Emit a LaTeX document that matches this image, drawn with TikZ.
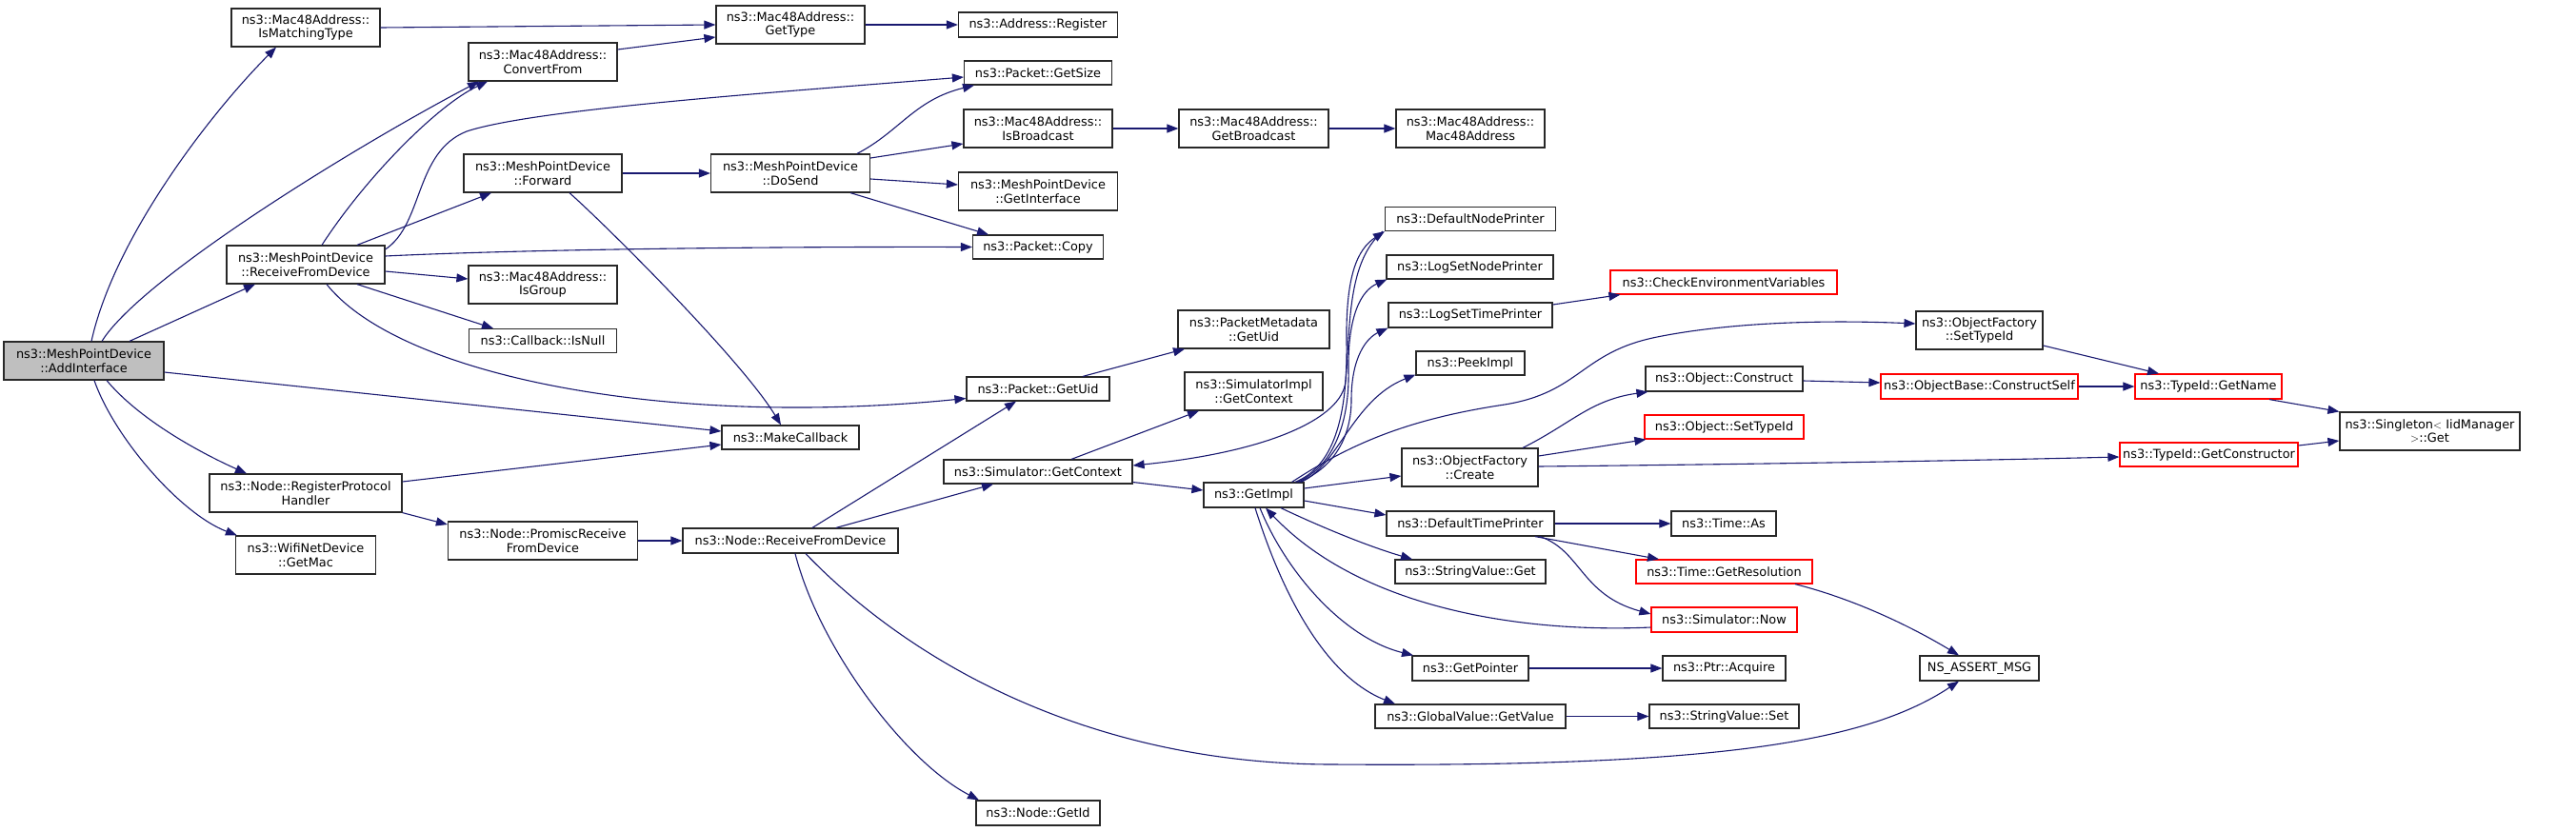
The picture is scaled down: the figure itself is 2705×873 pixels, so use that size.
\documentclass[tikz,border=0pt]{standalone}
\usepackage{fontspec}
\setmainfont{DejaVu Sans}
\usetikzlibrary{arrows.meta,calc}
\definecolor{edgec}{RGB}{25,25,112}
\definecolor{redc}{RGB}{255,0,0}
\definecolor{fillg}{RGB}{191,191,191}
\definecolor{bordc}{RGB}{40,40,40}
\newcommand{\dgfont}{\fontsize{12.9}{14.5}\selectfont}
\begin{document}
\begin{tikzpicture}[x=1pt,y=-1pt,
  box/.style={draw=bordc, line width=1.2pt, fill=white, inner sep=0pt, align=center, font=\dgfont},
  redbox/.style={box, draw=redc},
  mainbox/.style={box, fill=fillg},
  wh/.style 2 args={minimum width=#1pt, minimum height=#2pt},
  call/.style={draw=edgec, line width=1.1pt, -{Triangle[length=12pt,width=9pt]}}]
\useasboundingbox (0,0) rectangle (2705,873);
% ---------- nodes ----------
\node[mainbox, wh={168}{40}] (addif) at (88,379) {ns3::MeshPointDevice\\::AddInterface};
\node[box, wh={156}{40}] (ismt) at (321,29) {ns3::Mac48Address::\\IsMatchingType};
\node[box, wh={156}{40}] (conv) at (570,65) {ns3::Mac48Address::\\ConvertFrom};
\node[box, wh={166}{40}] (fwd) at (570,182) {ns3::MeshPointDevice\\::Forward};
\node[box, wh={166}{40}] (mrfd) at (321,278) {ns3::MeshPointDevice\\::ReceiveFromDevice};
\node[box, wh={156}{40}] (isg) at (570,299) {ns3::Mac48Address::\\IsGroup};
\node[box, wh={155}{25}] (isnull) at (570,358) {ns3::Callback::IsNull};
\node[box, wh={202}{40}] (rph) at (321,518) {ns3::Node::RegisterProtocol\\Handler};
\node[box, wh={147}{40}] (getmac) at (321,583) {ns3::WifiNetDevice\\::GetMac};
\node[box, wh={199}{40}] (prfd) at (570,568) {ns3::Node::PromiscReceive\\FromDevice};
\node[box, wh={156}{40}] (gettype) at (830,26) {ns3::Mac48Address::\\GetType};
\node[box, wh={167}{40}] (dosend) at (830,182) {ns3::MeshPointDevice\\::DoSend};
\node[box, wh={144}{25}] (mkcb) at (830,459.5) {ns3::MakeCallback};
\node[box, wh={226}{26}] (nrfd) at (830,568) {ns3::Node::ReceiveFromDevice};
\node[box, wh={167}{26}] (areg) at (1090,26) {ns3::Address::Register};
\node[box, wh={155}{25}] (getsize) at (1090,76.5) {ns3::Packet::GetSize};
\node[box, wh={156}{40}] (isbc) at (1090,135) {ns3::Mac48Address::\\IsBroadcast};
\node[box, wh={167}{40}] (getif) at (1090,201) {ns3::MeshPointDevice\\::GetInterface};
\node[box, wh={137}{25}] (copy) at (1090,259.5) {ns3::Packet::Copy};
\node[box, wh={150}{25}] (pguid) at (1090,408.5) {ns3::Packet::GetUid};
\node[box, wh={198}{25}] (sgc) at (1090,495.5) {ns3::Simulator::GetContext};
\node[box, wh={130}{26}] (getid) at (1090,854) {ns3::Node::GetId};
\node[box, wh={157}{40}] (getbc) at (1316.5,135) {ns3::Mac48Address::\\GetBroadcast};
\node[box, wh={159}{40}] (pmuid) at (1316.5,346) {ns3::PacketMetadata\\::GetUid};
\node[box, wh={145}{40}] (sigc) at (1316.5,411) {ns3::SimulatorImpl\\::GetContext};
\node[box, wh={105}{26}] (getimpl) at (1316.5,520) {ns3::GetImpl};
\node[box, wh={156}{40}] (m48) at (1544,135) {ns3::Mac48Address::\\Mac48Address};
\node[box, wh={179}{25}] (dnp) at (1544,230) {ns3::DefaultNodePrinter};
\node[box, wh={175}{25}] (lsnp) at (1543.5,280.5) {ns3::LogSetNodePrinter};
\node[box, wh={172}{26}] (lstp) at (1544,331) {ns3::LogSetTimePrinter};
\node[box, wh={114}{25}] (peek) at (1544,381.5) {ns3::PeekImpl};
\node[box, wh={143}{40}] (ofc) at (1543.5,491) {ns3::ObjectFactory\\::Create};
\node[box, wh={176}{26}] (dtp) at (1544,550) {ns3::DefaultTimePrinter};
\node[box, wh={158}{25}] (svget) at (1544,600.5) {ns3::StringValue::Get};
\node[box, wh={122}{26}] (gptr) at (1544,702) {ns3::GetPointer};
\node[box, wh={200}{25}] (gvgv) at (1544,752.5) {ns3::GlobalValue::GetValue};
\node[redbox, wh={238}{25}] (cev) at (1810,296.5) {ns3::CheckEnvironmentVariables};
\node[box, wh={165}{26}] (ocons) at (1810.5,398) {ns3::Object::Construct};
\node[redbox, wh={167}{25}] (osti) at (1810.5,448.5) {ns3::Object::SetTypeId};
\node[box, wh={110}{26}] (tas) at (1810,550) {ns3::Time::As};
\node[redbox, wh={185}{25}] (tgr) at (1810.5,600.5) {ns3::Time::GetResolution};
\node[redbox, wh={153}{26}] (snow) at (1810.5,651) {ns3::Simulator::Now};
\node[box, wh={129}{26}] (pacq) at (1810.5,702) {ns3::Ptr::Acquire};
\node[box, wh={157}{25}] (svset) at (1810.5,752.5) {ns3::StringValue::Set};
\node[box, wh={133}{40}] (ofsti) at (2078.5,347) {ns3::ObjectFactory\\::SetTypeId};
\node[redbox, wh={207}{26}] (obcs) at (2078.5,406) {ns3::ObjectBase::ConstructSelf};
\node[box, wh={125}{26}] (nsassert) at (2078.5,702) {NS\_ASSERT\_MSG};
\node[redbox, wh={154}{26}] (tgn) at (2319,406) {ns3::TypeId::GetName};
\node[redbox, wh={187}{25}] (tgc) at (2319.5,477.5) {ns3::TypeId::GetConstructor};
\node[box, wh={189}{40}] (singleton) at (2551.5,453) {ns3::Singleton$<$ IidManager\\ $>$::Get};
% ---------- edges ----------
\draw[call] ($(addif.north)+(8,0)$) .. controls (120,250) and (220,120) .. ($(ismt.south)+(-31,0)$);
\draw[call] ($(addif.north)+(19,0)$) .. controls (150,290) and (380,150) .. ($(conv.south)+(-67,0)$);
\draw[call] ($(addif.north)+(48,0)$) -- ($(mrfd.south)+(-53,0)$);
\draw[call] ($(addif.east)+(0,12)$) -- ($(mkcb.west)+(0,-6.5)$);
\draw[call] ($(addif.south)+(24,0)$) .. controls (150,445) and (220,480) .. ($(rph.north)+(-62,0)$);
\draw[call] ($(addif.south)+(11,0)$) .. controls (120,460) and (190,540) .. ($(getmac.north west)+(2,0)$);
\draw[call] (ismt.east) -- (gettype.west);
\draw[call] ($(conv.east)+(0,-13)$) -- ($(gettype.west)+(0,13)$);
\draw[call] (gettype.east) -- (areg.west);
\draw[call] ($(mrfd.north)+(17,0)$) .. controls (385,185) and (460,110) .. ($(conv.south)+(-58,0)$);
\draw[call] ($(mrfd.east)+(0,-16)$) .. controls (445,235) and (435,160) .. (490,138) .. controls (560,115) and (800,98) .. ($(getsize.west)+(0,4.5)$);
\draw[call] ($(mrfd.north)+(54,0)$) -- ($(fwd.south)+(-54,0)$);
\draw[call] ($(mrfd.east)+(0,-9)$) .. controls (550,262) and (800,259) .. (copy.west);
\draw[call] ($(mrfd.east)+(0,7)$) -- ($(isg.west)+(0,-6)$);
\draw[call] ($(mrfd.south)+(54,0)$) -- ($(isnull.north)+(-52,0)$);
\draw[call] ($(mrfd.south)+(22,0)$) .. controls (420,395) and (700,450) .. ($(pguid.west)+(0,10)$);
\draw[call] (fwd.east) -- (dosend.west);
\draw[call] ($(fwd.south)+(28,0)$) .. controls (640,240) and (780,380) .. ($(mkcb.north)+(-10,0)$);
\draw[call] ($(dosend.north)+(70,0)$) .. controls (945,138) and (960,105) .. ($(getsize.south)+(-67,0)$);
\draw[call] ($(dosend.east)+(0,-16)$) -- ($(isbc.west)+(0,16)$);
\draw[call] ($(dosend.east)+(0,6)$) -- ($(getif.west)+(0,-7)$);
\draw[call] ($(dosend.south)+(63,0)$) -- ($(copy.north)+(-52,0)$);
\draw[call] (isbc.east) -- (getbc.west);
\draw[call] (getbc.east) -- (m48.west);
\draw[call] ($(rph.east)+(0,-12)$) -- ($(mkcb.west)+(0,7.5)$);
\draw[call] (rph.south east) -- ($(prfd.west)+(0,-17)$);
\draw[call] (prfd.east) -- (nrfd.west);
\draw[call] ($(nrfd.north)+(23,0)$) -- ($(pguid.south)+(-23,0)$);
\draw[call] ($(nrfd.north)+(48,0)$) -- ($(sgc.south)+(-47,0)$);
\draw[call] ($(nrfd.south)+(5,0)$) .. controls (860,680) and (950,800) .. ($(getid.north)+(-62,0)$);
\draw[call] ($(nrfd.south)+(16,0)$) .. controls (960,700) and (1150,803) .. (1400,803) .. controls (1800,806) and (1960,780) .. ($(nsassert.south)+(-21.5,0)$);
\draw[call] ($(pguid.north)+(47,0)$) -- ($(pmuid.south)+(-72.5,0)$);
\draw[call] ($(sgc.north)+(35,0)$) -- ($(sigc.south)+(-57.5,0)$);
\draw[call] ($(sgc.east)+(0,11)$) -- ($(getimpl.west)+(0,-5)$);
\draw[call] ($(dnp.south west)+(-2,0)$) .. controls (1415,275) and (1418,340) .. (1413,400) .. controls (1410,440) and (1330,475) .. ($(sgc.east)+(0,-6.5)$);
\draw[call] ($(getimpl.north)+(43.5,0)$) .. controls (1400,490) and (1415,440) .. (1414,360) .. controls (1413,290) and (1425,262) .. (dnp.south west);
\draw[call] ($(getimpl.north)+(45.5,0)$) .. controls (1402,490) and (1417,440) .. (1416,390) .. controls (1415,330) and (1430,305) .. ($(lsnp.south west)+(1,0)$);
\draw[call] ($(getimpl.north)+(47.5,0)$) .. controls (1404,490) and (1419,455) .. (1419,420) .. controls (1419,375) and (1435,355) .. (lstp.south west);
\draw[call] ($(getimpl.north)+(49.5,0)$) .. controls (1405,490) and (1420,420) .. ($(peek.south west)+(0,-1)$);
\draw[call] ($(getimpl.north)+(40,0)$) .. controls (1420,465) and (1480,440) .. (1580,425) .. controls (1660,412) and (1660,370) .. (1740,354) .. controls (1820,338) and (1920,336) .. ($(ofsti.west)+(0,-7)$);
\draw[call] ($(getimpl.east)+(0,-7)$) -- ($(ofc.west)+(0,9)$);
\draw[call] ($(getimpl.east)+(0,6)$) -- ($(dtp.west)+(0,-9)$);
\draw[call] ($(getimpl.south)+(28.5,0)$) .. controls (1390,555) and (1440,575) .. ($(svget.north)+(-61,0)$);
\draw[call] ($(getimpl.south)+(6.5,0)$) .. controls (1350,600) and (1410,670) .. ($(gptr.north)+(-60,0)$);
\draw[call] ($(getimpl.south)+(1.5,0)$) .. controls (1345,620) and (1390,710) .. ($(gvgv.north)+(-79,0)$);
\draw[call] ($(snow.west)+(0,8)$) .. controls (1600,665) and (1430,640) .. ($(getimpl.south)+(12.5,0)$);
\draw[call] ($(lstp.east)+(0,-11)$) -- ($(cev.south west)+(11,0)$);
\draw[call] ($(ofc.north)+(55.5,0)$) .. controls (1650,445) and (1670,420) .. ($(ocons.south west)+(3,0)$);
\draw[call] ($(ofc.east)+(0,-12)$) -- ($(osti.south west)+(2,0)$);
\draw[call] ($(ofc.east)+(0,-1)$) .. controls (1900,487) and (2100,483) .. ($(tgc.west)+(0,2.5)$);
\draw[call] ($(ocons.east)+(0,2)$) -- ($(obcs.west)+(0,-4)$);
\draw[call] (obcs.east) -- (tgn.west);
\draw[call] ($(ofsti.east)+(0,16)$) -- ($(tgn.north)+(-52,0)$);
\draw[call] ($(tgn.south)+(64,0)$) -- (singleton.north west);
\draw[call] ($(tgc.east)+(0,-9.5)$) -- ($(singleton.west)+(0,10)$);
\draw[call] (dtp.east) -- (tas.west);
\draw[call] ($(dtp.south)+(68,0)$) -- ($(tgr.north)+(-68.5,0)$);
\draw[call] ($(dtp.south)+(73,0)$) .. controls (1660,578) and (1660,625) .. ($(snow.west)+(0,-6)$);
\draw[call] ($(tgr.south)+(74.5,0)$) .. controls (1950,630) and (2010,660) .. ($(nsassert.north)+(-21.5,0)$);
\draw[call] (gptr.east) -- (pacq.west);
\draw[call] (gvgv.east) -- (svset.west);
\end{tikzpicture}
\end{document}
